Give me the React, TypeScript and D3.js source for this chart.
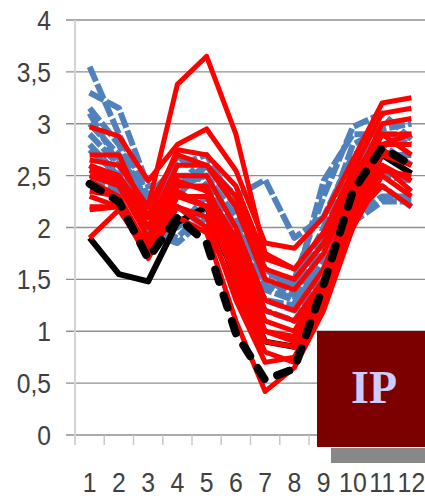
import React from "react";
import * as d3 from "d3";

const months = ["1", "2", "3", "4", "5", "6", "7", "8", "9", "10", "11", "12"];
const yTicks = [0, 0.5, 1, 1.5, 2, 2.5, 3, 3.5, 4];

// Blue series (dashed)
const blueSeries: number[][] = [
  [3.55, 2.9, 2.3, 2.6, 2.7, 2.2, 1.6, 1.45, 2.0, 2.8, 2.95, 3.0],
  [3.3, 3.15, 2.4, 2.4, 2.5, 2.1, 1.5, 1.35, 1.9, 2.6, 2.9, 2.9],
  [3.15, 2.8, 2.2, 2.3, 2.6, 2.3, 2.46, 1.9, 2.1, 2.7, 2.8, 2.6],
  [2.9, 2.6, 2.1, 2.7, 2.4, 2.0, 1.45, 1.3, 1.8, 2.5, 2.7, 2.7],
  [2.75, 2.5, 2.0, 1.9, 2.2, 1.9, 1.4, 1.3, 1.6, 2.3, 2.5, 2.45],
  [2.6, 2.4, 1.95, 1.85, 2.1, 1.8, 1.3, 1.2, 1.5, 2.1, 2.3, 2.3],
  [2.45, 2.35, 2.1, 2.0, 2.3, 1.7, 1.3, 1.25, 1.7, 2.3, 2.4, 2.2],
  [3.0, 2.7, 2.25, 2.5, 2.5, 2.0, 1.55, 1.5, 2.3, 2.97, 3.1, 2.85],
  [2.8, 2.5, 2.0, 2.2, 2.0, 1.6, 1.2, 1.1, 1.5, 2.05, 2.25, 2.25],
  [3.1, 2.6, 2.3, 2.4, 2.6, 2.2, 1.6, 1.4, 2.45, 2.9, 2.9, 2.8],
];

// Red series (solid)
const redSeries: number[][] = [
  [2.55, 2.45, 2.2, 3.38, 3.65, 2.9, 1.75, 1.6, 1.95, 2.4, 2.8, 2.9],
  [2.97, 2.88, 2.45, 2.8, 2.95, 2.55, 1.85, 1.8, 2.1, 2.65, 3.2, 3.25],
  [2.7, 2.7, 2.1, 2.75, 2.7, 2.4, 1.7, 1.6, 1.95, 2.55, 3.1, 3.15],
  [2.6, 2.5, 2.0, 2.6, 2.6, 2.2, 1.5, 1.4, 1.75, 2.4, 3.0, 3.05],
  [2.5, 2.4, 1.9, 2.5, 2.5, 2.0, 1.3, 1.2, 1.6, 2.3, 2.9, 2.9],
  [2.45, 2.3, 1.8, 2.4, 2.4, 1.8, 1.1, 1.0, 1.5, 2.2, 2.8, 2.8],
  [2.35, 2.3, 1.75, 2.3, 2.2, 1.5, 0.9, 0.85, 1.4, 2.2, 2.7, 2.6],
  [2.3, 2.2, 1.7, 2.2, 2.1, 1.3, 0.7, 0.75, 1.3, 2.1, 2.6, 2.45],
  [2.2, 2.2, 1.8, 2.1, 1.95, 1.1, 0.42, 0.65, 1.2, 2.0, 2.5, 2.3],
  [1.9, 2.17, 1.75, 2.3, 2.3, 1.7, 1.0, 0.95, 1.5, 2.1, 2.4, 2.2],
  [2.65, 2.6, 2.2, 2.7, 2.6, 2.3, 1.6, 1.5, 1.85, 2.5, 2.9, 2.7],
  [2.55, 2.5, 2.1, 2.45, 2.35, 1.9, 1.2, 1.1, 1.5, 2.25, 2.75, 2.6],
  [2.5, 2.45, 2.0, 2.35, 2.2, 1.6, 1.0, 0.9, 1.4, 2.2, 2.6, 2.35],
  [2.17, 2.2, 1.85, 2.2, 2.0, 1.4, 0.8, 0.7, 1.3, 2.0, 2.55, 2.5],
];

const blackSolid = [1.9, 1.55, 1.48, 2.05, 2.2, 1.5, 0.9, 0.85, 1.4, 2.2, 2.7, 2.52];
const blackDashed = [2.42, 2.25, 1.7, 2.1, 1.85, 0.98, 0.53, 0.64, 1.45, 2.35, 2.77, 2.6];

const W = 425;
const H = 498;

export default function App() {
  const x = d3.scaleBand<string>().domain(months).range([75, 426]).paddingInner(0).paddingOuter(0);
  const y = d3.scaleLinear().domain([0, 4]).range([435, 20]);
  const cx = (i: number) => (x(months[i]) ?? 0) + x.bandwidth() / 2;
  const line = d3
    .line<number>()
    .x((_, i) => cx(i))
    .y((v) => y(v))
    .curve(d3.curveLinear);

  const tickFont = "'Liberation Sans', Arial, sans-serif";

  return (
    <svg
      width={W}
      height={H}
      viewBox={`0 0 ${W} ${H}`}
      style={{ position: "absolute", left: 0, top: 0, background: "#fff" }}
    >
      {/* horizontal gridlines */}
      {yTicks.map((t) => (
        <line key={"g" + t} x1={66} x2={W} y1={y(t)} y2={y(t)} stroke="#8f8f8f" strokeWidth={1.4} />
      ))}
      {/* value axis line */}
      <line x1={75} x2={75} y1={y(4)} y2={445} stroke="#d4d4d4" strokeWidth={2} />
      {/* category ticks */}
      {months.map((m) => (
        <line
          key={"t" + m}
          x1={(x(m) ?? 0) + x.bandwidth()}
          x2={(x(m) ?? 0) + x.bandwidth()}
          y1={435}
          y2={445}
          stroke="#c8c8c8"
          strokeWidth={1.5}
        />
      ))}
      {/* y labels */}
      {yTicks.map((t) => (
        <text
          key={"yl" + t}
          transform={`translate(51,${y(t)}) scale(0.88,1)`}
          dy="0.36em"
          textAnchor="end"
          fontFamily={tickFont}
          fontSize={28}
          fill="#404040"
        >
          {String(t).replace(".", ",")}
        </text>
      ))}
      {/* x labels */}
      {months.map((m, i) => (
        <text
          key={"xl" + m}
          transform={`translate(${cx(i)},492) scale(0.92,1)`}
          textAnchor="middle"
          fontFamily={tickFont}
          fontSize={27}
          fill="#404040"
        >
          {m}
        </text>
      ))}

      {/* blue series */}
      {blueSeries.map((s, i) => (
        <path
          key={"b" + i}
          d={line(s) ?? ""}
          fill="none"
          stroke="#4f81bd"
          strokeWidth={6}
          strokeDasharray="16,3"
          strokeLinejoin="round"
        />
      ))}
      {/* black solid series */}
      <path d={line(blackSolid) ?? ""} fill="none" stroke="#000" strokeWidth={6} strokeLinejoin="round" />
      {/* red series */}
      {redSeries.map((s, i) => (
        <path
          key={"r" + i}
          d={line(s) ?? ""}
          fill="none"
          stroke="#ff0000"
          strokeWidth={5}
          strokeLinejoin="round"
        />
      ))}
      {/* black dashed series */}
      <path
        d={line(blackDashed) ?? ""}
        fill="none"
        stroke="#000"
        strokeWidth={8}
        strokeDasharray="13,14"
        strokeLinecap="round"
        strokeLinejoin="round"
      />

      {/* label box */}
      <rect x={331} y={448} width={W - 331} height={15} fill="#888888" />
      <rect x={317} y={331} width={W - 317} height={116} fill="#7d0000" />
      <text
        x={374}
        y={403}
        textAnchor="middle"
        fontFamily="'Liberation Serif', 'Times New Roman', serif"
        fontWeight="bold"
        fontSize={46}
        fill="#ccccff"
      >
        IP
      </text>
    </svg>
  );
}
